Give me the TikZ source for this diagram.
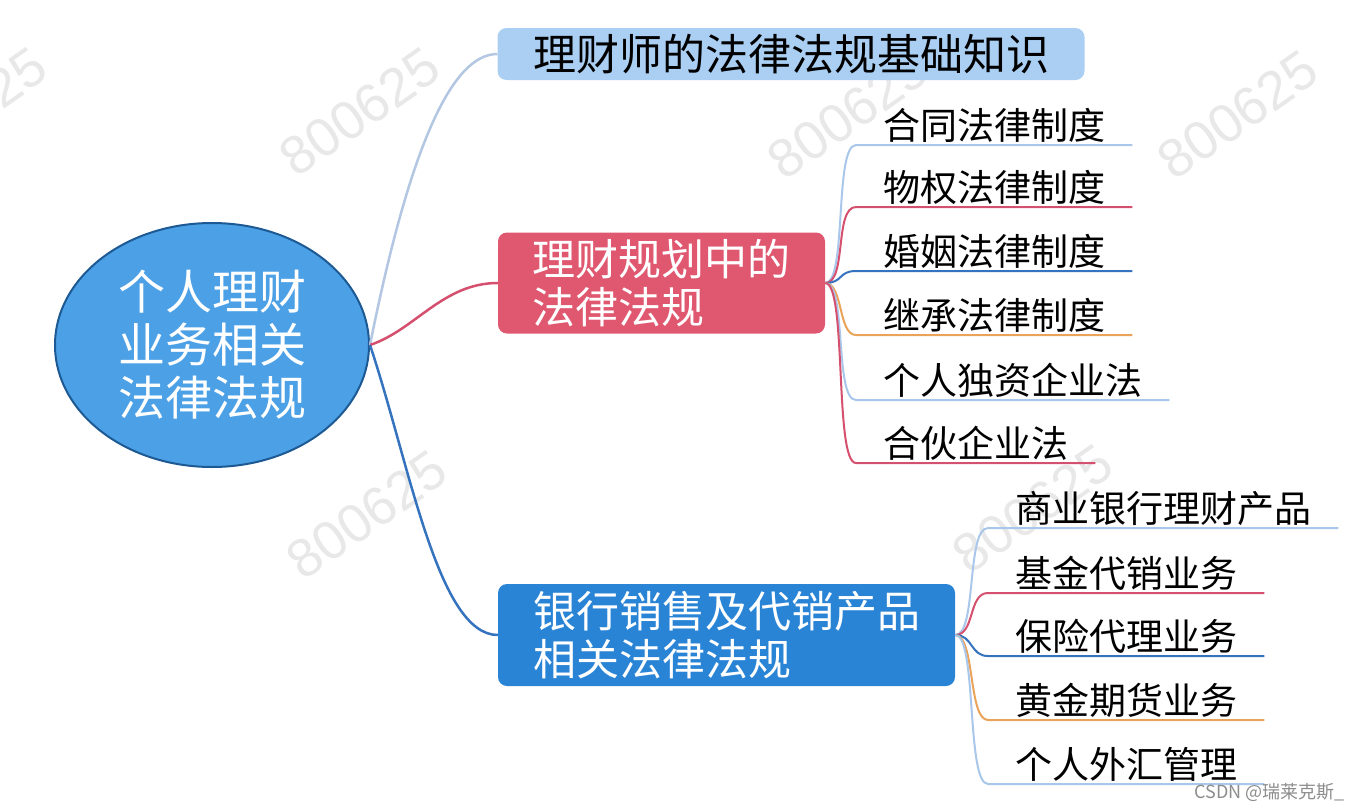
\documentclass[tikz,border=0pt]{standalone}
\usepackage{fontspec}
\setmainfont{Noto Sans CJK SC}
\newfontfamily\wmfont{Liberation Sans}
\usetikzlibrary{shapes.geometric}
\definecolor{rootblue}{HTML}{4CA0E6}
\definecolor{rootedge}{HTML}{1D5A94}
\definecolor{paleblue}{HTML}{AACFF3}
\definecolor{rosered}{HTML}{E05870}
\definecolor{deepblue}{HTML}{2A84D6}
\definecolor{linegray}{HTML}{B3C6E2}
\definecolor{linered}{HTML}{D5506E}
\definecolor{lineblue}{HTML}{3573BE}
\definecolor{lineorange}{HTML}{E9A35A}
\definecolor{linepale}{HTML}{A9C7EA}
\begin{document}
\begin{tikzpicture}[x=1pt, y=-1pt,
  box/.style={rounded corners=9pt, inner sep=0pt, align=left, font=\fontsize{43}{48}\selectfont},
  leaf/.style={anchor=south west, inner xsep=27pt, inner ysep=5pt, text depth=0.08em, font=\fontsize{37}{40}\selectfont},
  wm/.style={rotate=35, text=black!9, inner sep=0pt, font=\wmfont\fontsize{54}{54}\selectfont},
  twig/.style={line width=2pt}]
  \useasboundingbox (0,0) rectangle (1360,811);
  \fill[white] (0,0) rectangle (1360,811);
  \node[wm] (wm1) at (-33,112) {800625};
  \node[wm] (wm2) at (360,112) {800625};
  \node[wm] (wm3) at (848,115) {800625};
  \node[wm] (wm4) at (1238,115) {800625};
  \node[wm] (wm5) at (367,515) {800625};
  \node[wm] (wm6) at (1033,509) {800625};
  \node[ellipse, draw=rootedge, line width=2pt, fill=rootblue, text=white, align=center,
    minimum width=314pt, minimum height=244pt, inner sep=0pt,
    font=\fontsize{47}{53}\selectfont] (root) at (212,345) {个人理财\\业务相关\\法律法规};
  \node[box, fill=paleblue, minimum width=587pt, minimum height=52pt] (basics) at (791,54) {理财师的法律法规基础知识};
  \node[box, fill=rosered, text=white, minimum width=327pt, minimum height=101pt] (planning) at (661.5,283) {理财规划中的\\法律法规};
  \node[box, fill=deepblue, text=white, minimum width=457pt, minimum height=102pt] (banking) at (726.5,635) {银行销售及代销产品\\相关法律法规};
  \draw[line width=2.5pt, linegray] (root.east) .. controls +(40,-200) and +(-45,0) .. (basics.west);
  \draw[line width=2.5pt, linered] (root.east) .. controls +(45,-15) and +(-55,0) .. (planning.west);
  \draw[line width=2.5pt, lineblue] (root.east) .. controls +(40,120) and +(-60,0) .. (banking.west);
  \node[leaf] (law1) at (856,145) {合同法律制度};
  \node[leaf] (law2) at (856,207) {物权法律制度};
  \node[leaf] (law3) at (856,271) {婚姻法律制度};
  \node[leaf] (law4) at (856,335) {继承法律制度};
  \node[leaf] (law5) at (856,400) {个人独资企业法};
  \node[leaf] (law6) at (856,463) {合伙企业法};
  \draw[twig, linepale] (planning.east) .. controls +(22,0) and +(-22,0) .. (law1.south west) -- (law1.south east);
  \draw[twig, linered] (planning.east) .. controls +(22,0) and +(-22,0) .. (law2.south west) -- (law2.south east);
  \draw[twig, lineblue] (planning.east) .. controls +(18,0) and +(-18,0) .. (law3.south west) -- (law3.south east);
  \draw[twig, lineorange] (planning.east) .. controls +(18,0) and +(-18,0) .. (law4.south west) -- (law4.south east);
  \draw[twig, linepale] (planning.east) .. controls +(22,0) and +(-22,0) .. (law5.south west) -- (law5.south east);
  \draw[twig, linered] (planning.east) .. controls +(22,0) and +(-22,0) .. (law6.south west) -- (law6.south east);
  \node[leaf] (bank1) at (988,528) {商业银行理财产品};
  \node[leaf] (bank2) at (988,593) {基金代销业务};
  \node[leaf] (bank3) at (988,656) {保险代理业务};
  \node[leaf] (bank4) at (988,720) {黄金期货业务};
  \node[leaf] (bank5) at (988,784) {个人外汇管理};
  \draw[twig, linepale] (banking.east) .. controls +(22,0) and +(-22,0) .. (bank1.south west) -- (bank1.south east);
  \draw[twig, linered] (banking.east) .. controls +(20,0) and +(-20,0) .. (bank2.south west) -- (bank2.south east);
  \draw[twig, lineblue] (banking.east) .. controls +(18,0) and +(-18,0) .. (bank3.south west) -- (bank3.south east);
  \draw[twig, lineorange] (banking.east) .. controls +(20,0) and +(-20,0) .. (bank4.south west) -- (bank4.south east);
  \draw[twig, linepale] (banking.east) .. controls +(22,0) and +(-22,0) .. (bank5.south west) -- (bank5.south east);
  \node[anchor=east, inner sep=0pt, text=black!45, font=\fontsize{18}{18}\selectfont] (credit) at (1345,792) {CSDN @瑞莱克斯\_};
\end{tikzpicture}
\end{document}
